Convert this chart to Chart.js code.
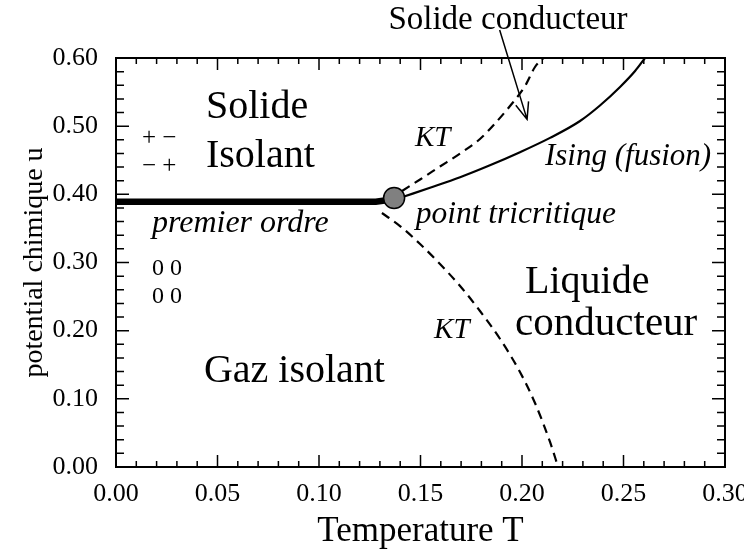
<!DOCTYPE html>
<html><head><meta charset="utf-8">
<script src="https://cdn.jsdelivr.net/npm/chart.js@4.4.1/dist/chart.umd.min.js"></script>
<style>html,body{margin:0;padding:0;background:#fff}#wrap{width:744px;height:552px}</style>
</head><body><div id="wrap"><canvas id="c" width="744" height="552"></canvas></div>
<script>
// ---- data (Temperature T, potentiel chimique u) ----
const xTicks = [0.00, 0.05, 0.10, 0.15, 0.20, 0.25, 0.30];
const yTicks = [0.00, 0.10, 0.20, 0.30, 0.40, 0.50, 0.60];
const firstOrderT = [0.000, 0.128, 0.135];
const firstOrderU = [0.389, 0.389, 0.392];
const tricriticalT = [0.137];
const tricriticalU = [0.3946];
const isingT = [0.1419, 0.1547, 0.1695, 0.1842, 0.1990, 0.2138, 0.2286, 0.2384, 0.2483, 0.2557, 0.2606];
const isingU = [0.3968, 0.4097, 0.4251, 0.4426, 0.4618, 0.4828, 0.5076, 0.5303, 0.5575, 0.5809, 0.6000];
const ktUpperT = [0.1409, 0.1498, 0.1596, 0.1695, 0.1793, 0.1867, 0.1941, 0.2015, 0.2064, 0.2106];
const ktUpperU = [0.4049, 0.4218, 0.4408, 0.4599, 0.4812, 0.5039, 0.5296, 0.5589, 0.5868, 0.6000];
const ktLowerT = [0.1310, 0.1399, 0.1498, 0.1596, 0.1695, 0.1793, 0.1892, 0.1990, 0.2064, 0.2138, 0.2178];
const ktLowerU = [0.3726, 0.3535, 0.3271, 0.2978, 0.2655, 0.2289, 0.1878, 0.1394, 0.0939, 0.0367, 0.0000];

const pts = (xs, ys) => xs.map((x, i) => ({x: x, y: ys[i]}));
const SERIF = '"Liberation Serif", "Times New Roman", serif';

// annotation texts anchored in data coordinates
const labels = [
  {t: 'Solide', x: 0.0443, y: 0.512, size: 40, style: 'normal', align: 'left'},
  {t: 'Isolant', x: 0.0443, y: 0.440, size: 40, style: 'normal', align: 'left'},
  {t: '+ \u2212', x: 0.0128, y: 0.473, size: 25, style: 'normal', align: 'left'},
  {t: '\u2212 +', x: 0.0128, y: 0.432, size: 25, style: 'normal', align: 'left'},
  {t: 'premier ordre', x: 0.0177, y: 0.3447, size: 32, style: 'italic', align: 'left'},
  {t: '0 0', x: 0.0177, y: 0.281, size: 24, style: 'normal', align: 'left'},
  {t: '0 0', x: 0.0177, y: 0.240, size: 24, style: 'normal', align: 'left'},
  {t: 'Gaz isolant', x: 0.1325, y: 0.1247, size: 40, style: 'normal', align: 'right'},
  {t: 'Liquide', x: 0.2015, y: 0.2553, size: 40, style: 'normal', align: 'left'},
  {t: 'conducteur', x: 0.1966, y: 0.1936, size: 41, style: 'normal', align: 'left'},
  {t: 'KT', x: 0.1473, y: 0.4709, size: 29, style: 'italic', align: 'left'},
  {t: 'Ising (fusion)', x: 0.2113, y: 0.443, size: 31, style: 'italic', align: 'left'},
  {t: 'point tricritique', x: 0.1476, y: 0.358, size: 31.5, style: 'italic', align: 'left'},
  {t: 'KT', x: 0.1567, y: 0.1892, size: 29, style: 'italic', align: 'left'},
  {t: 'Solide conducteur', x: 0.1931, y: 0.643, size: 33, style: 'normal', align: 'center'}
];
const arrowFrom = {x: 0.189, y: 0.641};
const arrowTo = {x: 0.2025, y: 0.510};

const framePlugin = {
  id: 'frame',
  afterDraw(chart) {
    const {ctx, chartArea: a, scales: {x, y}} = chart;
    ctx.save();
    ctx.strokeStyle = '#000';
    ctx.lineWidth = 2;
    ctx.strokeRect(a.left, a.top, a.right - a.left, a.bottom - a.top);
    ctx.lineWidth = 1.5;
    ctx.beginPath();
    for (let i = 0; i <= 30; i++) {
      const v = i / 100;
      const px = x.getPixelForValue(v);
      const len = (i % 5 === 0) ? 12 : 6;
      ctx.moveTo(px, a.bottom); ctx.lineTo(px, a.bottom - len);
      ctx.moveTo(px, a.top); ctx.lineTo(px, a.top + len);
    }
    for (let i = 0; i <= 30; i++) {
      const v = i / 50;
      const py = y.getPixelForValue(v);
      const len = (i % 5 === 0) ? 13 : 8;
      ctx.moveTo(a.left, py); ctx.lineTo(a.left + len, py);
      ctx.moveTo(a.right, py); ctx.lineTo(a.right - len, py);
    }
    ctx.stroke();
    // arrow
    const x0 = x.getPixelForValue(arrowFrom.x), y0 = y.getPixelForValue(arrowFrom.y);
    const x1 = x.getPixelForValue(arrowTo.x), y1 = y.getPixelForValue(arrowTo.y);
    ctx.lineWidth = 1.5;
    ctx.beginPath(); ctx.moveTo(x0, y0); ctx.lineTo(x1, y1);
    const ang = Math.atan2(y1 - y0, x1 - x0);
    const hl = 18, ha = 0.38;
    ctx.moveTo(x1 - hl * Math.cos(ang - ha), y1 - hl * Math.sin(ang - ha));
    ctx.lineTo(x1, y1);
    ctx.lineTo(x1 - hl * Math.cos(ang + ha), y1 - hl * Math.sin(ang + ha));
    ctx.stroke();
    // labels
    ctx.fillStyle = '#000';
    ctx.textBaseline = 'alphabetic';
    labels.forEach(l => {
      ctx.font = l.style + ' ' + l.size + 'px ' + SERIF;
      ctx.textAlign = l.align;
      ctx.fillText(l.t, x.getPixelForValue(l.x), y.getPixelForValue(l.y));
    });
    ctx.restore();
  }
};

const lineDs = (label, xs, ys, extra) => Object.assign({
  label: label, data: pts(xs, ys), showLine: true, pointRadius: 0,
  borderColor: '#000', borderWidth: 2.2, cubicInterpolationMode: 'monotone'
}, extra || {});

new Chart(document.getElementById('c'), {
  type: 'scatter',
  data: {
    datasets: [
      {label: 'point tricritique', data: pts(tricriticalT, tricriticalU), pointRadius: 10.5,
       backgroundColor: '#808080', borderColor: '#000', borderWidth: 1.5, showLine: false, clip: false},
      lineDs('premier ordre', firstOrderT, firstOrderU, {borderWidth: 6.5, cubicInterpolationMode: 'default', tension: 0, clip: false}),
      lineDs('Ising', isingT, isingU),
      lineDs('KT haut', ktUpperT, ktUpperU, {borderDash: [9, 6]}),
      lineDs('KT bas', ktLowerT, ktLowerU, {borderDash: [9, 6]})
    ]
  },
  options: {
    responsive: false,
    animation: false,
    events: [],
    layout: {padding: {top: 58, right: 19, left: 0, bottom: 0}},
    plugins: {legend: {display: false}, tooltip: {enabled: false}},
    scales: {
      x: {
        type: 'linear', min: 0, max: 0.30,
        grid: {display: false}, border: {display: false},
        afterBuildTicks: s => { s.ticks = xTicks.map(v => ({value: v})); },
        ticks: {maxRotation: 0, padding: 4, color: '#000',
                font: {family: SERIF, size: 26},
                callback: v => v.toFixed(2)},
        title: {display: true, text: 'Temperature T', color: '#000',
                font: {family: SERIF, size: 35, lineHeight: 1}, padding: {top: 0, bottom: 3}},
        afterFit: s => { s.height = 85; s.paddingLeft = 0; s.paddingRight = 0; }
      },
      y: {
        type: 'linear', min: 0, max: 0.60,
        grid: {display: false}, border: {display: false},
        afterBuildTicks: s => { s.ticks = yTicks.map(v => ({value: v})); },
        ticks: {padding: 10, color: '#000',
                font: {family: SERIF, size: 26},
                callback: v => v.toFixed(2)},
        title: {display: true, text: 'potential chimique u', color: '#000',
                font: {family: SERIF, size: 28, lineHeight: 1}, padding: {top: 21, bottom: 0}},
        afterFit: s => { s.width = 116; s.paddingTop = 0; s.paddingBottom = 0; }
      }
    }
  },
  plugins: [framePlugin]
});
</script>
</body></html>
